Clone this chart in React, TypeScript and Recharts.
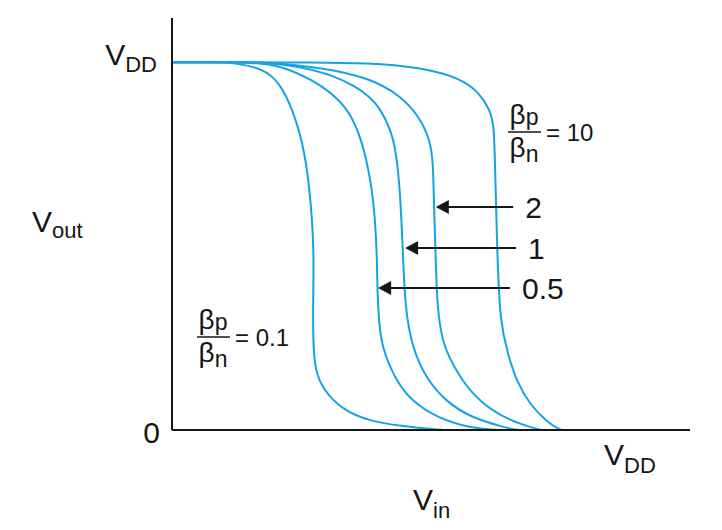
import React from 'react';
import { LineChart, Line, XAxis, YAxis, ReferenceLine } from 'recharts';

// beta_p / beta_n ratio of each transfer curve
const ratios = ['0.1', '0.5', '1', '2', '10'];

// Vin and Vout, both as a fraction of VDD
const vin01 = [0, 0.1, 0.127, 0.199, 0.236, 0.264, 0.29, 0.303, 0.31, 0.308, 0.308, 0.312, 0.33, 0.373, 0.432, 0.498, 0.585, 0.6];
const vout01 = [1, 1, 0.999, 0.984, 0.943, 0.87, 0.761, 0.625, 0.489, 0.353, 0.245, 0.163, 0.109, 0.054, 0.024, 0.011, 0, 0];

const vin05 = [0, 0.12, 0.17, 0.236, 0.308, 0.36, 0.395, 0.421, 0.437, 0.443, 0.448, 0.448, 0.454, 0.465, 0.491, 0.526, 0.579, 0.651, 0.71, 0.72];
const vout05 = [1, 1, 0.999, 0.992, 0.951, 0.905, 0.851, 0.761, 0.652, 0.579, 0.462, 0.38, 0.253, 0.204, 0.13, 0.076, 0.033, 0.005, 0, 0];

const vin1 = [0, 0.14, 0.192, 0.279, 0.345, 0.4, 0.432, 0.454, 0.476, 0.489, 0.498, 0.504, 0.509, 0.526, 0.557, 0.6, 0.651, 0.723, 0.753, 0.76];
const vout1 = [1, 1, 0.999, 0.989, 0.967, 0.935, 0.905, 0.875, 0.821, 0.761, 0.652, 0.489, 0.326, 0.217, 0.136, 0.076, 0.035, 0.008, 0, 0];

const vin2 = [0, 0.16, 0.214, 0.323, 0.432, 0.498, 0.541, 0.563, 0.57, 0.572, 0.576, 0.579, 0.592, 0.603, 0.629, 0.672, 0.723, 0.766, 0.803, 0.81];
const vout2 = [1, 1, 0.999, 0.986, 0.957, 0.91, 0.851, 0.788, 0.734, 0.606, 0.462, 0.326, 0.236, 0.204, 0.141, 0.076, 0.035, 0.014, 0, 0];

const vin10 = [0, 0.2, 0.28, 0.432, 0.541, 0.629, 0.672, 0.694, 0.703, 0.705, 0.71, 0.716, 0.734, 0.753, 0.782, 0.819, 0.847, 0.855];
const vout10 = [1, 1, 0.999, 0.998, 0.986, 0.957, 0.916, 0.87, 0.829, 0.734, 0.489, 0.291, 0.204, 0.13, 0.068, 0.022, 0, 0];

// arrows pointing at curves 2, 1 and 0.5
const arrowLabels = ['2', '1', '0.5'];
const arrowY = [0.606, 0.495, 0.386];
const arrowTipX = [0.576, 0.509, 0.45];
const arrowTailX = [0.745, 0.751, 0.738];

const xs = [vin01, vin05, vin1, vin2, vin10];
const ys = [vout01, vout05, vout1, vout2, vout10];
const curves = ratios.map((r, i) => ({
  ratio: r,
  points: xs[i].map((v, j) => ({ vin: v, vout: ys[i][j] })),
}));

const FONT = '"Liberation Sans", Arial, sans-serif';
const BLUE = '#14a3e4';
const INK = '#161616';

const YTick = (props: any) => {
  const { x, y, payload } = props;
  if (payload.value === 0) {
    return (
      <text x={x + 3} y={y + 13} textAnchor="end" fontSize={30} fill={INK} fontFamily={FONT}>0</text>
    );
  }
  return (
    <text x={x} y={y + 3} textAnchor="end" fill={INK} fontFamily={FONT}>
      <tspan fontSize={30}>V</tspan>
      <tspan fontSize={22} dy={7}>DD</tspan>
    </text>
  );
};

const XTick = (props: any) => {
  const { x, y } = props;
  return (
    <text x={x} y={y + 35} textAnchor="middle" fill={INK} fontFamily={FONT}>
      <tspan fontSize={30}>V</tspan>
      <tspan fontSize={22} dy={8}>DD</tspan>
    </text>
  );
};

const Arrow = (props: any) => {
  const { x1, y1, x2, label } = props;
  const head = 13;
  return (
    <g>
      <line x1={x1} y1={y1} x2={x2 + head - 1} y2={y1} stroke={INK} strokeWidth={2} />
      <polygon points={`${x2},${y1} ${x2 + head},${y1 - 7} ${x2 + head},${y1 + 7}`} fill={INK} />
      <text x={x1 + 12} y={y1 + 11} fontSize={30} fill={INK} fontFamily={FONT}>{label}</text>
    </g>
  );
};

const Ratio = ({ cx, lineY, value }: { cx: number; lineY: number; value: string }) => (
  <g fill={INK} fontFamily={FONT}>
    <text x={cx} y={lineY - 8} textAnchor="middle">
      <tspan fontSize={28}>β</tspan>
      <tspan fontSize={23} dy={1}>p</tspan>
    </text>
    <line x1={cx - 16} y1={lineY} x2={cx + 17} y2={lineY} stroke={INK} strokeWidth={1.3} />
    <text x={cx} y={lineY + 25} textAnchor="middle">
      <tspan fontSize={28}>β</tspan>
      <tspan fontSize={23} dy={5}>n</tspan>
    </text>
    <text x={cx + 22} y={lineY + 9} fontSize={24}>= {value}</text>
  </g>
);

const App = () => {
  return (
    <div style={{ position: 'absolute', left: 0, top: 0, width: 722, height: 530, background: '#fff' }}>
      <LineChart width={722} height={530} margin={{ top: 18, right: 32, bottom: 0, left: 0 }}>
        <XAxis
          type="number"
          dataKey="vin"
          domain={[0, 1.131]}
          ticks={[1]}
          tick={<XTick />}
          tickLine={false}
          tickSize={0}
          tickMargin={0}
          height={100}
          axisLine={{ stroke: INK, strokeWidth: 2 }}
        />
        <YAxis
          type="number"
          domain={[0, 1.12]}
          ticks={[0, 1]}
          tick={<YTick />}
          tickLine={false}
          tickSize={0}
          tickMargin={15}
          width={172}
          axisLine={{ stroke: INK, strokeWidth: 2 }}
        />
        {curves.map((c) => (
          <Line
            key={c.ratio}
            data={c.points}
            dataKey="vout"
            type="basis"
            stroke={BLUE}
            strokeWidth={2}
            dot={false}
            isAnimationActive={false}
          />
        ))}
        {arrowLabels.map((label, i) => (
          <ReferenceLine
            key={label}
            segment={[
              { x: arrowTailX[i], y: arrowY[i] },
              { x: arrowTipX[i], y: arrowY[i] },
            ]}
            shape={(p: any) => <Arrow {...p} label={label} />}
          />
        ))}
      </LineChart>
      <svg width={722} height={530} style={{ position: 'absolute', left: 0, top: 0, pointerEvents: 'none' }}>
        <text x={32} y={232} fill={INK} fontFamily={FONT}>
          <tspan fontSize={30}>V</tspan>
          <tspan fontSize={22} dy={6}>out</tspan>
        </text>
        <text x={413} y={510} fill={INK} fontFamily={FONT}>
          <tspan fontSize={30}>V</tspan>
          <tspan fontSize={22} dy={8}>in</tspan>
        </text>
        <Ratio cx={524} lineY={132} value="10" />
        <Ratio cx={213} lineY={337} value="0.1" />
      </svg>
    </div>
  );
};

export default App;
